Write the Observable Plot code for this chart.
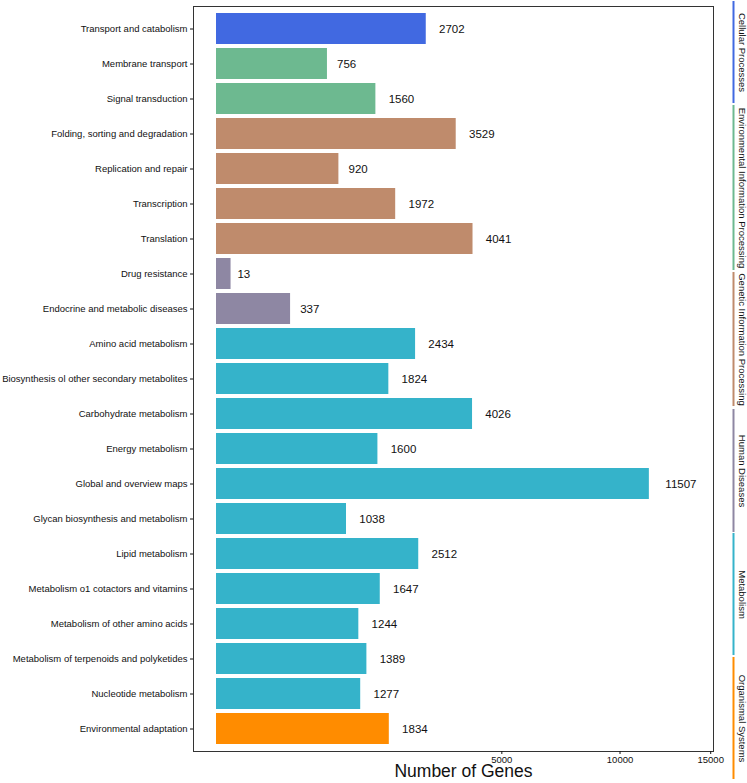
<!DOCTYPE html>
<html>
<head>
<meta charset="utf-8">
<script src="https://cdn.jsdelivr.net/npm/d3@7"></script>
<script src="https://cdn.jsdelivr.net/npm/@observablehq/plot@0.6"></script>
<style>
  html, body { margin: 0; padding: 0; background: white; }
  #wrap { position: relative; width: 747px; height: 783px; }
  #wrap svg { position: absolute; left: 0; top: 0; }
</style>
</head>
<body>
<div id="wrap"></div>
<script>
// ---- data ----
const categories = [
  "Transport and catabolism",
  "Membrane transport",
  "Signal transduction",
  "Folding, sorting and degradation",
  "Replication and repair",
  "Transcription",
  "Translation",
  "Drug resistance",
  "Endocrine and metabolic diseases",
  "Amino acid metabolism",
  "Biosynthesis ol other secondary metabolites",
  "Carbohydrate metabolism",
  "Energy metabolism",
  "Global and overview maps",
  "Glycan biosynthesis and metabolism",
  "Lipid metabolism",
  "Metabolism o1 cotactors and vitamins",
  "Metabolism of other amino acids",
  "Metabolism of terpenoids and polyketides",
  "Nucleotide metabolism",
  "Environmental adaptation"
];
const values = [2702, 756, 1560, 3529, 920, 1972, 4041, 13, 337, 2434, 1824, 4026, 1600, 11507, 1038, 2512, 1647, 1244, 1389, 1277, 1834];
const categoryGroup = [
  "Cellular Processes",
  "Environmental Information Processing", "Environmental Information Processing",
  "Genetic Information Processing", "Genetic Information Processing", "Genetic Information Processing", "Genetic Information Processing",
  "Human Diseases", "Human Diseases",
  "Metabolism", "Metabolism", "Metabolism", "Metabolism", "Metabolism", "Metabolism",
  "Metabolism", "Metabolism", "Metabolism", "Metabolism", "Metabolism",
  "Organismal Systems"
];
const groups = ["Cellular Processes", "Environmental Information Processing", "Genetic Information Processing", "Human Diseases", "Metabolism", "Organismal Systems"];
const groupColors = ["#4169E1", "#6DB990", "#BF8B6C", "#8E87A3", "#35B3CA", "#FF8C00"];
// extents of the side strips (in the 0..783 strip-layout units)
const stripStart = [1, 105, 272, 409, 533, 657];
const stripEnd = [103, 270, 406, 532, 655, 779];
const xTicks = [5000, 10000, 15000];
const xLabel = "Number of Genes";

const data = categories.map((c, i) => ({category: c, value: values[i], group: categoryGroup[i]}));
const strips = groups.map((g, i) => ({group: g, start: stripStart[i], end: stripEnd[i]}));

const font = "'Liberation Sans', Arial, Helvetica, sans-serif";
const labelSize = 11.5;
const digitW = 0.556 * labelSize;

const valueLabelMarks = [2, 3, 4, 5].map(n =>
  Plot.text(data.filter(d => String(d.value).length === n), {
    x: "value", y: "category", text: d => String(d.value),
    textAnchor: "start", dx: 0.5 * n * digitW, fontSize: labelSize, fill: "#111"
  })
);

const main = Plot.plot({
  width: 747,
  height: 783,
  marginLeft: 193,
  marginRight: 34,
  marginTop: 6,
  marginBottom: 32,
  style: {fontFamily: font, background: "white", color: "#111"},
  x: {type: "sqrt", domain: [0, 15170], insetLeft: 23},
  y: {domain: categories, paddingInner: 0.12, paddingOuter: 0.17},
  color: {domain: groups, range: groupColors},
  marks: [
    Plot.barX(data, {x: "value", y: "category", fill: "group"}),
    Plot.frame({stroke: "#333", strokeWidth: 1}),
    Plot.axisX({ticks: xTicks, tickFormat: d => String(d), tickSize: 3, tickPadding: 2, fontSize: 9.5, label: null}),
    Plot.axisY({tickSize: 3, tickPadding: 3, fontSize: 9.5, label: null}),
    ...valueLabelMarks,
    Plot.text([xLabel], {frameAnchor: "bottom", dx: 10, dy: 25, fontSize: 17.5, fill: "#111"})
  ]
});

const side = Plot.plot({
  width: 747,
  height: 783,
  marginTop: 0,
  marginBottom: 0,
  marginLeft: 732,
  marginRight: 13,
  style: {fontFamily: font, background: "transparent", color: "#111", overflow: "visible"},
  x: {domain: [0, 1], axis: null},
  y: {domain: [0, 783], reverse: true, axis: null},
  color: {domain: groups, range: groupColors},
  marks: [
    Plot.ruleX(strips, {x: () => 0.5, y1: "start", y2: "end", stroke: "group", strokeWidth: 2}),
    Plot.text(strips, {y: d => (d.start + d.end) / 2, text: "group", frameAnchor: "left", textAnchor: "middle", lineAnchor: "middle", dx: 10, rotate: 90, fontSize: 9.5, fill: "#111"})
  ]
});

const wrap = document.getElementById("wrap");
wrap.appendChild(main);
wrap.appendChild(side);
</script>
</body>
</html>
